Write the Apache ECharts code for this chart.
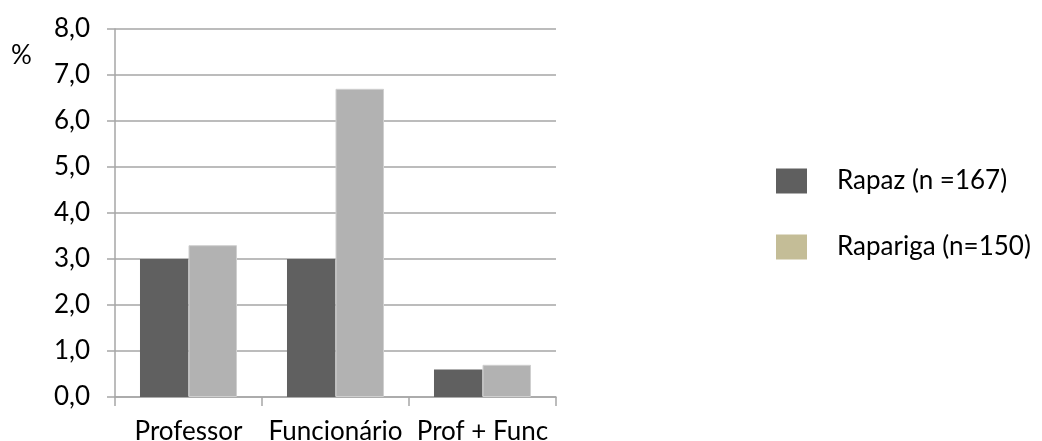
<!DOCTYPE html>
<html>
<head>
<meta charset="utf-8">
<script src="https://cdn.jsdelivr.net/npm/echarts@6/dist/echarts.min.js"></script>
<style>
  html, body { margin: 0; padding: 0; background: #ffffff; }
  #chart { width: 1042px; height: 441px; }
</style>
</head>
<body>
<div id="chart"></div>
<script>
// Categories and values (%)
const categories = ['Professor', 'Funcionário', 'Prof + Func'];
const rapaz = [3.0, 3.0, 0.6];
const rapariga = [3.3, 6.7, 0.7];
const seriesNames = ['Rapaz (n =167)', 'Rapariga (n=150)'];

const FONT = 'Lato, "Open Sans", sans-serif';
const FONT_SIZE = 26;
const GRID_COLOR = '#a6a6a6';

const chart = echarts.init(document.getElementById('chart'), null, { renderer: 'canvas' });

chart.setOption({
  backgroundColor: '#ffffff',
  animation: false,
  grid: { left: 115, right: 486, top: 29, bottom: 44, containLabel: false, outerBoundsMode: 'none' },
  legend: {
    orient: 'vertical',
    left: 771,
    top: 163,
    padding: 5,
    itemWidth: 31,
    itemHeight: 25,
    itemGap: 40,
    icon: 'rect',
    itemStyle: { borderWidth: 0 },
    textStyle: { fontFamily: FONT, fontSize: FONT_SIZE, color: '#000000', padding: [0, 0, 0, 25] },
    data: [
      { name: seriesNames[0], itemStyle: { color: '#5f5f5f', borderWidth: 0 } },
      { name: seriesNames[1], itemStyle: { color: '#c4bd97', borderWidth: 0 } }
    ]
  },
  graphic: [
    {
      type: 'text',
      left: 11,
      top: 43,
      style: { text: '%', fontFamily: FONT, fontSize: FONT_SIZE, fill: '#000000' }
    }
  ],
  xAxis: {
    type: 'category',
    data: categories,
    axisLine: { show: true, lineStyle: { color: GRID_COLOR, width: 1.5 } },
    axisTick: { show: true, length: 9, lineStyle: { color: GRID_COLOR, width: 1.5 } },
    axisLabel: { interval: 0, fontFamily: FONT, fontSize: FONT_SIZE, color: '#000000', margin: 22 },
    splitLine: { show: false }
  },
  yAxis: {
    type: 'value',
    min: 0,
    max: 8,
    interval: 1,
    axisLine: { show: true, lineStyle: { color: GRID_COLOR, width: 1.5 } },
    axisTick: { show: true, length: 8, lineStyle: { color: GRID_COLOR, width: 1.5 } },
    axisLabel: {
      fontFamily: FONT, fontSize: FONT_SIZE, color: '#000000', margin: 25,
      formatter: v => v.toFixed(1).replace('.', ',')
    },
    splitLine: { show: true, lineStyle: { color: GRID_COLOR, width: 1.5 } }
  },
  series: [
    {
      name: seriesNames[0],
      type: 'bar',
      data: rapaz,
      barGap: '0%',
      barCategoryGap: '34%',
      itemStyle: { color: '#606060' }
    },
    {
      name: seriesNames[1],
      type: 'bar',
      data: rapariga,
      barGap: '0%',
      barCategoryGap: '34%',
      itemStyle: { color: '#b2b2b2', borderColor: '#cfcfcf', borderWidth: 1 }
    }
  ]
});
</script>
</body>
</html>
